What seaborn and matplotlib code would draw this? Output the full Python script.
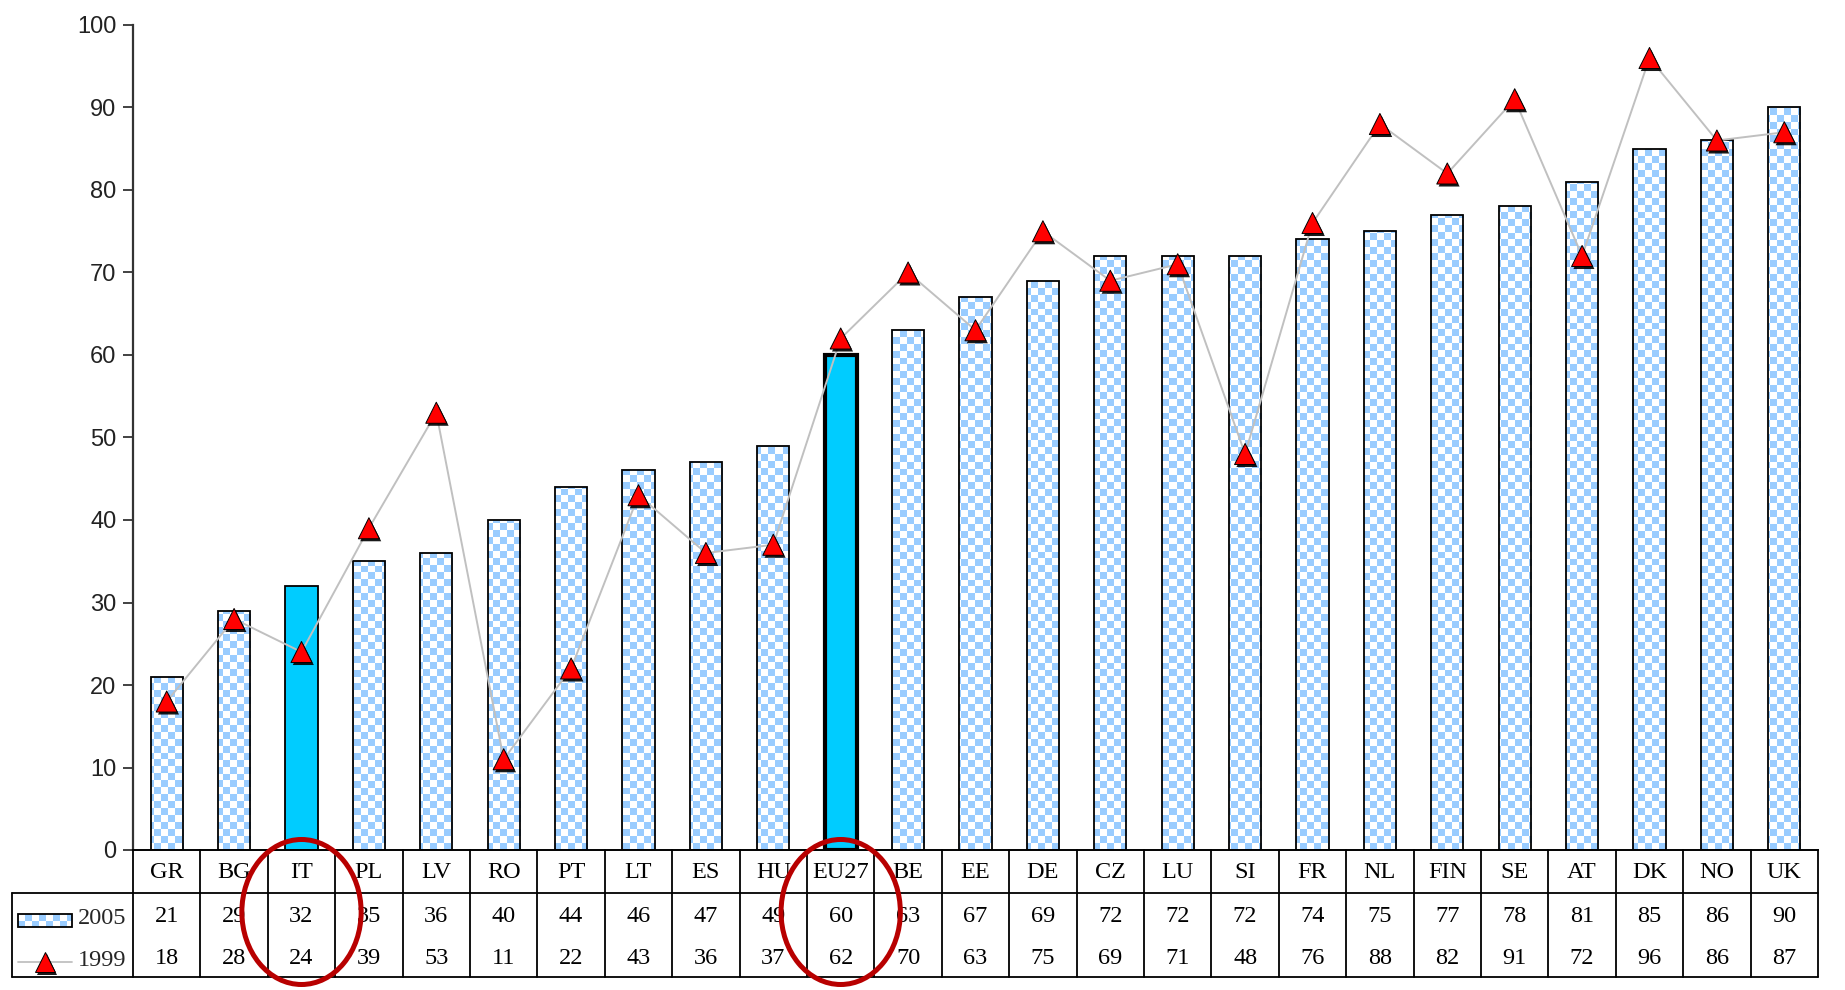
import numpy as np
import pandas as pd
import matplotlib
matplotlib.use("Agg")
import matplotlib.pyplot as plt
import matplotlib.transforms as mtransforms
import matplotlib.patheffects as pe
from matplotlib.colors import ListedColormap, to_rgb
from matplotlib.patches import Ellipse, Rectangle
from matplotlib.lines import Line2D
import seaborn as sns

# ---- data -------------------------------------------------------------
countries = ["GR", "BG", "IT", "PL", "LV", "RO", "PT", "LT", "ES", "HU", "EU27",
             "BE", "EE", "DE", "CZ", "LU", "SI", "FR", "NL", "FIN", "SE", "AT",
             "DK", "NO", "UK"]
share_2005 = [21, 29, 32, 35, 36, 40, 44, 46, 47, 49, 60, 63, 67, 69, 72, 72,
              72, 74, 75, 77, 78, 81, 85, 86, 90]
share_1999 = [18, 28, 24, 39, 53, 11, 22, 43, 36, 37, 62, 70, 63, 75, 69, 71,
              48, 76, 88, 82, 91, 72, 96, 86, 87]
highlighted = ["IT", "EU27"]
circled = ["IT", "EU27"]
series_labels = ["2005", "1999"]
y_ticks = [0, 10, 20, 30, 40, 50, 60, 70, 80, 90, 100]

# ---- style ------------------------------------------------------------
CHECK_BLUE = "#99CCFF"
SOLID_BLUE = "#00CCFF"
LINE_GREY = "#C0C0C0"
MARK_RED = "#FF0000"
RING_RED = "#B80000"
AXIS_GREY = "#333333"
SERIF = "Liberation Serif"
SANS = "Liberation Sans"
TABLE_FS = 17.5

sns.set_style("ticks")
plt.rcParams["font.family"] = [SANS, "DejaVu Sans"]

W, H = 1845, 990
fig = plt.figure(figsize=(W / 100, H / 100), dpi=100)
ax_left, ax_right, ax_top, ax_bottom = 133, 1818, 25, 850
ax = fig.add_axes([ax_left / W, 1 - ax_bottom / H,
                   (ax_right - ax_left) / W, (ax_bottom - ax_top) / H])


def fy(px):
    return 1 - px / H


def fx(px):
    return px / W


df = pd.DataFrame({"country": countries, "y2005": share_2005, "y1999": share_1999})

# ---- bars (2005) --------------------------------------------------------
palette = {c: (SOLID_BLUE if c in highlighted else "white") for c in countries}
sns.barplot(data=df, x="country", y="y2005", hue="country", palette=palette,
            legend=False, width=0.48, edgecolor="black", linewidth=1.3,
            saturation=1, ax=ax, zorder=2)

ax.set_xlim(-0.5, len(countries) - 0.5)
ax.set_ylim(0, 100)

# checkered fill, clipped to each plain bar
sq = 6.9
nx = int((ax_right - ax_left) / sq)
ny = int((ax_bottom - ax_top) / sq)
checker = np.add.outer(np.arange(ny), np.arange(nx)) % 2
check_cmap = ListedColormap(["white", CHECK_BLUE])

for bar, c in zip(ax.patches, countries):
    if c == "EU27":
        bar.set_linewidth(3.0)
    if c in highlighted:
        continue
    bar.set_facecolor("none")
    im = ax.imshow(checker, extent=(-0.5, len(countries) - 0.5, 0, 100),
                   cmap=check_cmap, interpolation="nearest", aspect="auto",
                   origin="lower", zorder=1.5)
    im.set_clip_path(bar)

ax.set_xlim(-0.5, len(countries) - 0.5)
ax.set_ylim(0, 100)

# ---- line with triangle markers (1999) ------------------------------------
sns.lineplot(data=df, x="country", y="y1999", sort=False, color=LINE_GREY,
             linewidth=1.4, ax=ax, zorder=3)
shadow = [pe.withSimplePatchShadow(offset=(1.3, -1.8), shadow_rgbFace="black",
                                   alpha=0.9)]
sns.scatterplot(data=df, x="country", y="y1999", marker="^", s=230,
                color=MARK_RED, edgecolor="black", linewidth=0.7,
                ax=ax, zorder=4)
ax.collections[-1].set_path_effects(shadow)

# ---- axes ---------------------------------------------------------------
ax.set_xlabel("")
ax.set_ylabel("")
ax.set_yticks(y_ticks)
ax.set_yticklabels([str(t) for t in y_ticks], fontsize=17, color="#222222",
                   family=SANS)
ax.tick_params(axis="y", length=7, width=1.3, color=AXIS_GREY, pad=5)
ax.tick_params(axis="x", length=0, labelbottom=False)
for side in ("top", "right"):
    ax.spines[side].set_visible(False)
ax.spines["left"].set_color(AXIS_GREY)
ax.spines["left"].set_linewidth(1.6)
ax.spines["bottom"].set_color("black")
ax.spines["bottom"].set_linewidth(1.4)

# ---- data table under the chart ----------------------------------------
blend = mtransforms.blended_transform_factory(ax.transData, fig.transFigure)
tbl_top, row_split, tbl_bottom = 850, 893, 977
legend_left = 12
x_right = ax.get_position().x1
line_kw = dict(color="black", linewidth=1.3)

for k in range(len(countries) + 1):
    fig.add_artist(Line2D([k - 0.5, k - 0.5], [fy(tbl_top), fy(tbl_bottom)],
                          transform=blend, **line_kw))
fig.add_artist(Line2D([fx(legend_left), x_right], [fy(row_split)] * 2,
                      transform=fig.transFigure, **line_kw))
fig.add_artist(Line2D([fx(legend_left), x_right], [fy(tbl_bottom)] * 2,
                      transform=fig.transFigure, **line_kw))
fig.add_artist(Line2D([fx(legend_left)] * 2, [fy(row_split), fy(tbl_bottom)],
                      transform=fig.transFigure, **line_kw))

txt_kw = dict(transform=blend, ha="center", va="center", fontsize=TABLE_FS,
              family=SERIF, color="black", clip_on=False)
for i, c in enumerate(countries):
    ax.text(i, fy(872), c, **txt_kw)
    ax.text(i, fy(917), str(share_2005[i]), **txt_kw)
    ax.text(i, fy(958), str(share_1999[i]), **txt_kw)

# legend cell: checkered swatch + line/triangle
sw_x0, sw_x1, sw_y0, sw_y1 = 18, 72, 914, 927
sw_w, sw_h = sw_x1 - sw_x0, sw_y1 - sw_y0
swatch = np.ones((sw_h, sw_w, 3))
blue = np.array(to_rgb(CHECK_BLUE))
for r in range(sw_h):
    for q in range(sw_w):
        if (r // 7 + q // 7) % 2 == 1:
            swatch[r, q] = blue
fig.figimage(swatch, xo=sw_x0, yo=H - sw_y1, zorder=5)
fig.add_artist(Rectangle((fx(sw_x0), fy(sw_y1)), sw_w / W, sw_h / H,
                         transform=fig.transFigure, fill=False,
                         edgecolor="black", linewidth=1.3, zorder=6))
fig.add_artist(Line2D([fx(sw_x0), fx(sw_x1)], [fy(962)] * 2,
                      transform=fig.transFigure, color=LINE_GREY, linewidth=1.3))
fig.add_artist(Line2D([fx(45)], [fy(962)], transform=fig.transFigure,
                      marker="^", markersize=14.5, markerfacecolor=MARK_RED,
                      markeredgecolor="black", markeredgewidth=0.7,
                      linestyle="none", path_effects=shadow))
fig.text(fx(78), fy(918), series_labels[0], ha="left", va="center",
         fontsize=TABLE_FS, family=SERIF)
fig.text(fx(78), fy(960), series_labels[1], ha="left", va="center",
         fontsize=TABLE_FS, family=SERIF)

# ---- red rings around selected columns ----------------------------------
for c in circled:
    i = countries.index(c)
    ring = Ellipse((i, fy(912)), width=1.77, height=145 / H, transform=blend,
                   fill=False, edgecolor=RING_RED, linewidth=3.6, zorder=10)
    fig.add_artist(ring)

fig.savefig("out.png", dpi=100)
